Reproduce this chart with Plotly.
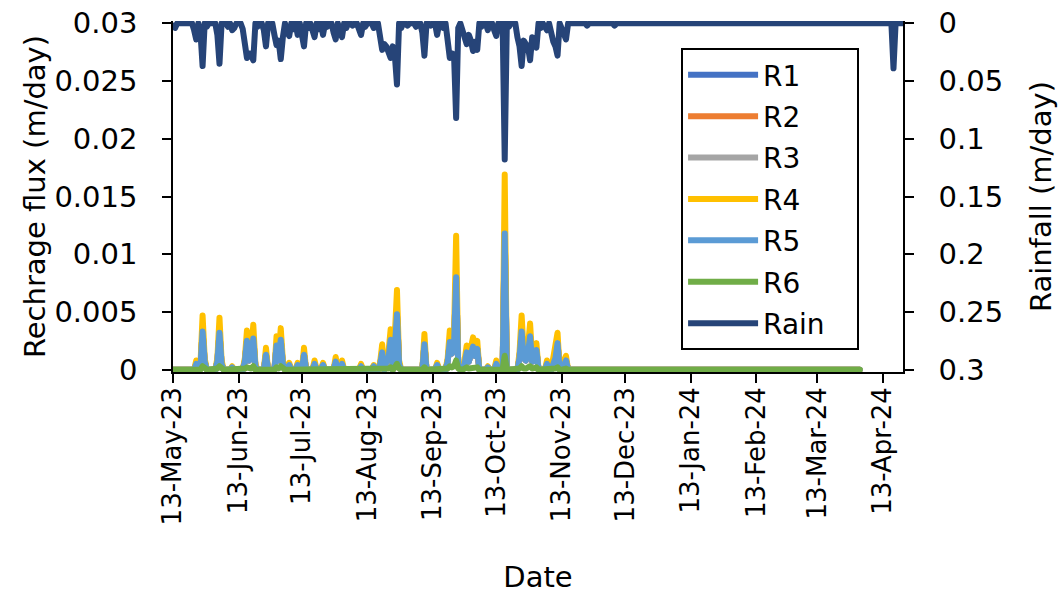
import plotly.graph_objects as go
import pandas as pd

# ---------------- data ----------------
rain_dates = [
    "2023-05-13", "2023-05-14", "2023-05-23", "2023-05-24", "2023-05-26", "2023-05-27", "2023-05-29",
    "2023-06-03", "2023-06-04", "2023-06-08", "2023-06-10", "2023-06-11", "2023-06-15", "2023-06-16",
    "2023-06-17", "2023-06-18", "2023-06-19", "2023-06-20", "2023-06-22", "2023-06-25", "2023-06-26",
    "2023-06-28", "2023-06-30", "2023-07-01", "2023-07-02", "2023-07-03", "2023-07-04", "2023-07-06",
    "2023-07-07", "2023-07-09", "2023-07-11", "2023-07-13", "2023-07-14", "2023-07-16", "2023-07-18",
    "2023-07-19", "2023-07-21", "2023-07-23", "2023-07-25", "2023-07-28", "2023-07-29", "2023-07-31",
    "2023-08-01", "2023-08-03", "2023-08-06", "2023-08-09", "2023-08-10", "2023-08-12", "2023-08-16",
    "2023-08-19", "2023-08-20", "2023-08-21", "2023-08-22", "2023-08-23", "2023-08-24", "2023-08-25",
    "2023-08-26", "2023-08-27", "2023-08-29", "2023-09-01", "2023-09-05", "2023-09-08", "2023-09-09",
    "2023-09-12", "2023-09-15", "2023-09-18", "2023-09-20", "2023-09-21", "2023-09-22", "2023-09-23",
    "2023-09-24", "2023-09-25", "2023-09-27", "2023-09-28", "2023-09-29", "2023-09-30", "2023-10-01",
    "2023-10-02", "2023-10-03", "2023-10-04", "2023-10-06", "2023-10-09", "2023-10-12", "2023-10-13",
    "2023-10-17", "2023-10-19", "2023-10-23", "2023-10-24", "2023-10-25", "2023-10-26", "2023-10-27",
    "2023-10-28", "2023-10-29", "2023-10-30", "2023-10-31", "2023-11-01", "2023-11-03", "2023-11-05",
    "2023-11-06", "2023-11-08", "2023-11-09", "2023-11-10", "2023-11-11", "2023-11-13", "2023-11-14",
    "2023-11-15", "2023-11-25", "2023-12-08", "2024-04-18",
]
rain_values = [
    0.002, 0.004, 0.006, 0.014, 0.008, 0.037, 0.003,
    0.010, 0.035, 0.003, 0.006, 0.004, 0.005, 0.020,
    0.030, 0.026, 0.028, 0.032, 0.003, 0.006, 0.020,
    0.002, 0.010, 0.019, 0.015, 0.031, 0.012, 0.008,
    0.011, 0.005, 0.010, 0.008, 0.020, 0.004, 0.006,
    0.012, 0.005, 0.010, 0.003, 0.008, 0.014, 0.008,
    0.012, 0.004, 0.002, 0.006, 0.010, 0.003, 0.004,
    0.015, 0.023, 0.018, 0.020, 0.025, 0.030, 0.020,
    0.028, 0.053, 0.004, 0.002, 0.003, 0.008, 0.028,
    0.002, 0.010, 0.004, 0.012, 0.030, 0.026, 0.027,
    0.082, 0.004, 0.006, 0.010, 0.018, 0.010, 0.015,
    0.024, 0.016, 0.023, 0.003, 0.006, 0.006, 0.011,
    0.118, 0.003, 0.012, 0.020, 0.037, 0.015, 0.018,
    0.020, 0.032, 0.012, 0.015, 0.021, 0.004, 0.004,
    0.006, 0.010, 0.016, 0.020, 0.028, 0.006, 0.012,
    0.014, 0.002, 0.002, 0.039,
]

flux_dates = [
    "2023-05-24", "2023-05-26", "2023-05-27", "2023-05-28", "2023-06-03", "2023-06-04", "2023-06-05",
    "2023-06-10", "2023-06-16", "2023-06-17", "2023-06-18", "2023-06-19", "2023-06-20", "2023-06-21",
    "2023-06-26", "2023-07-01", "2023-07-02", "2023-07-03", "2023-07-04", "2023-07-07", "2023-07-11",
    "2023-07-14", "2023-07-19", "2023-07-23", "2023-07-29", "2023-08-01", "2023-08-10", "2023-08-16",
    "2023-08-19", "2023-08-20", "2023-08-22", "2023-08-23", "2023-08-24", "2023-08-26", "2023-08-27",
    "2023-08-28", "2023-09-09", "2023-09-15", "2023-09-20", "2023-09-21", "2023-09-22", "2023-09-23",
    "2023-09-24", "2023-09-25", "2023-09-28", "2023-09-29", "2023-09-30", "2023-10-01", "2023-10-02",
    "2023-10-03", "2023-10-04", "2023-10-09", "2023-10-13", "2023-10-17", "2023-10-24", "2023-10-25",
    "2023-10-26", "2023-10-27", "2023-10-28", "2023-10-29", "2023-10-30", "2023-10-31", "2023-11-01",
    "2023-11-06", "2023-11-09", "2023-11-10", "2023-11-11", "2023-11-14", "2023-11-15", "2023-11-25",
]
r4_values = [
    0.0008, 0.0005, 0.0047, 0.0010, 0.0010, 0.0045, 0.0008,
    0.0003, 0.0010, 0.0034, 0.0012, 0.0015, 0.0039, 0.0005,
    0.0019, 0.0029, 0.0012, 0.0036, 0.0008, 0.0006, 0.0006,
    0.0019, 0.0008, 0.0006, 0.0011, 0.0008, 0.0005, 0.0004,
    0.0006, 0.0022, 0.0010, 0.0015, 0.0035, 0.0030, 0.0069,
    0.0008, 0.0031, 0.0006, 0.0010, 0.0034, 0.0020, 0.0030,
    0.0116, 0.0006, 0.0008, 0.0021, 0.0010, 0.0018, 0.0028,
    0.0018, 0.0025, 0.0003, 0.0008, 0.0169, 0.0015, 0.0047,
    0.0015, 0.0012, 0.0020, 0.0040, 0.0010, 0.0012, 0.0023,
    0.0008, 0.0010, 0.0015, 0.0032, 0.0008, 0.0012, 0.0001,
]
r5_values = [
    0.0005, 0.0003, 0.0033, 0.0007, 0.0007, 0.0032, 0.0005,
    0.0002, 0.0007, 0.0025, 0.0008, 0.0010, 0.0027, 0.0003,
    0.0013, 0.0021, 0.0008, 0.0026, 0.0005, 0.0004, 0.0004,
    0.0013, 0.0005, 0.0004, 0.0007, 0.0005, 0.0003, 0.0003,
    0.0004, 0.0015, 0.0007, 0.0010, 0.0026, 0.0020, 0.0048,
    0.0005, 0.0022, 0.0004, 0.0007, 0.0024, 0.0014, 0.0021,
    0.0080, 0.0004, 0.0005, 0.0015, 0.0007, 0.0012, 0.0020,
    0.0012, 0.0018, 0.0002, 0.0005, 0.0118, 0.0010, 0.0033,
    0.0010, 0.0008, 0.0014, 0.0029, 0.0007, 0.0008, 0.0017,
    0.0005, 0.0007, 0.0010, 0.0023, 0.0005, 0.0008, 0.0001,
]
r6_values = [
    0.0001, 0.0000, 0.0003, 0.0001, 0.0001, 0.0003, 0.0001,
    0.0000, 0.0001, 0.0002, 0.0001, 0.0001, 0.0003, 0.0000,
    0.0001, 0.0002, 0.0001, 0.0003, 0.0001, 0.0000, 0.0000,
    0.0001, 0.0001, 0.0000, 0.0001, 0.0001, 0.0000, 0.0000,
    0.0000, 0.0001, 0.0001, 0.0001, 0.0002, 0.0002, 0.0005,
    0.0001, 0.0002, 0.0000, 0.0001, 0.0003, 0.0002, 0.0003,
    0.0008, 0.0001, 0.0001, 0.0002, 0.0001, 0.0001, 0.0002,
    0.0001, 0.0002, 0.0000, 0.0001, 0.0012, 0.0001, 0.0003,
    0.0001, 0.0001, 0.0002, 0.0003, 0.0001, 0.0001, 0.0002,
    0.0001, 0.0001, 0.0001, 0.0002, 0.0001, 0.0001, 0.0000,
]
# R1-R3 lie underneath R4/R5 and are not visible
r1_values = r5_values
r2_values = r5_values
r3_values = r5_values

series_names = ["R1", "R2", "R3", "R4", "R5", "R6"]
series_colors = ["#4472C4", "#ED7D31", "#A5A5A5", "#FFC000", "#5B9BD5", "#70AD47"]
rain_color = "#264478"

x_ticks = ["2023-05-13", "2023-06-13", "2023-07-13", "2023-08-13", "2023-09-13", "2023-10-13",
           "2023-11-13", "2023-12-13", "2024-01-13", "2024-02-13", "2024-03-13", "2024-04-13"]
y1_ticks = [0, 0.005, 0.01, 0.015, 0.02, 0.025, 0.03]
y1_labels = ["0", "0.005", "0.01", "0.015", "0.02", "0.025", "0.03"]
y2_ticks = [0, 0.05, 0.1, 0.15, 0.2, 0.25, 0.3]
y2_labels = ["0", "0.05", "0.1", "0.15", "0.2", "0.25", "0.3"]

# ---------------- build daily series ----------------
rain_days = pd.date_range("2023-05-13", "2024-04-22", freq="D")
rain = pd.Series(0.0, index=rain_days)
rain.loc[pd.to_datetime(rain_dates)] = rain_values

flux_days = pd.date_range("2023-05-13", "2024-04-02", freq="D")
flux_lists = [r1_values, r2_values, r3_values, r4_values, r5_values, r6_values]

fig = go.Figure()
FONT = "DejaVu Sans"
for name, col, vals in zip(series_names, series_colors, flux_lists):
    s = pd.Series(0.0, index=flux_days)
    s.loc[pd.to_datetime(flux_dates)] = vals
    fig.add_trace(go.Scatter(x=s.index, y=s.values, mode="lines", name=name,
                             legendgroup=name,
                             line=dict(color=col, width=6), yaxis="y"))
NB = "\u00a0"
fig.add_trace(go.Scatter(x=rain.index, y=rain.values, mode="lines", name="Rain" + NB * 3,
                         legendgroup="Rain",
                         line=dict(color=rain_color, width=6), yaxis="y2"))

axis_common = dict(showline=True, linecolor="black", linewidth=1.5, ticks="outside",
                   ticklen=9, tickwidth=1.5, tickcolor="black", showgrid=False, zeroline=False,
                   layer="below traces", automargin=False, ticklabeloverflow="allow")

fig.update_layout(
    width=1059, height=594,
    paper_bgcolor="white", plot_bgcolor="white",
    margin=dict(l=173, r=156, t=21, b=222, autoexpand=False),
    font=dict(family=FONT, color="black", size=26),
    xaxis=dict(type="date", range=["2023-05-13", "2024-04-22 12:00"],
               tickvals=x_ticks, tickformat="%d-%b-%y", tickangle=-90,
               tickfont=dict(size=26, family=FONT), ticklabelstandoff=-6,
               title=dict(text="Date", font=dict(size=29, family=FONT), standoff=52),
               **axis_common),
    yaxis=dict(range=[-0.0002, 0.0302], tickvals=y1_ticks, ticktext=y1_labels,
               tickfont=dict(size=29, family=FONT), ticklabelstandoff=19,
               title=dict(text="Rechrage flux (m/day)", font=dict(size=29, family=FONT), standoff=0),
               **axis_common),
    yaxis2=dict(range=[0.302, -0.002], tickvals=y2_ticks, ticktext=y2_labels,
                overlaying="y", side="right", anchor="x",
                tickfont=dict(size=29, family=FONT), ticklabelstandoff=19,
                title=dict(text="Rainfall (m/day)", font=dict(size=29, family=FONT), standoff=29),
                **axis_common),
    legend=dict(x=0.696, y=0.923, xanchor="left", yanchor="top",
                bgcolor="white", bordercolor="black", borderwidth=2,
                font=dict(size=28, family=FONT, color="black"),
                traceorder="grouped", tracegroupgap=2, itemwidth=70),
    showlegend=True,
)

# zero page margin (figure fills the window) and rounded line joins like the original
page_js = ("document.body.style.margin='0';"
           "var st=document.createElement('style');"
           "st.textContent='body{margin:0;overflow:hidden}"
           ".scatterlayer .js-line{stroke-linejoin:round;stroke-linecap:round}';"
           "document.head.appendChild(st);")
fig.write_html("out.html", post_script=page_js, config={"displayModeBar": False})
